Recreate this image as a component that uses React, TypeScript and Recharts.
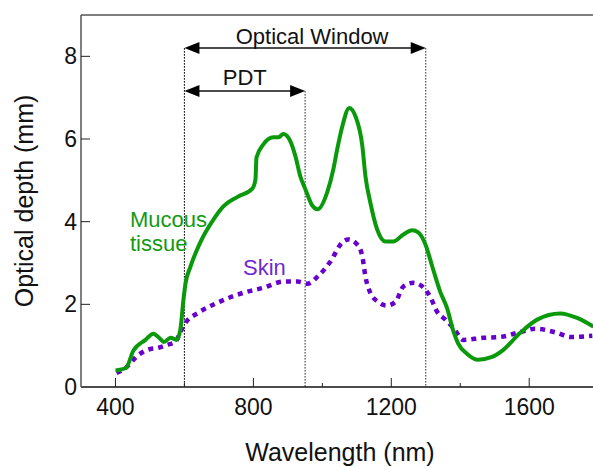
import { LineChart, Line, XAxis, YAxis, ReferenceLine, ReferenceDot } from "recharts"

// Mucous tissue optical depth (wavelength nm, depth mm)
const mucousX = [400, 430, 452, 487, 510, 530, 540, 560, 577, 588, 597, 603, 617, 646, 684, 713, 754, 797, 806, 809, 829, 858, 872, 887, 907, 922, 936, 951, 970, 986, 1014, 1032, 1043, 1058, 1078, 1096, 1116, 1125, 1139, 1159, 1183, 1206, 1235, 1261, 1278, 1299, 1319, 1342, 1362, 1380, 1394, 1420, 1452, 1490, 1525, 1574, 1623, 1690, 1739, 1786]
const mucousY = [0.4, 0.46, 0.88, 1.14, 1.29, 1.16, 1.09, 1.19, 1.14, 1.38, 2.1, 2.5, 2.9, 3.5, 4.05, 4.37, 4.6, 4.8, 5.02, 5.55, 5.87, 6.04, 6.04, 6.12, 5.95, 5.58, 5.1, 4.78, 4.4, 4.3, 4.71, 5.27, 5.75, 6.31, 6.75, 6.55, 5.83, 5.1, 4.47, 3.81, 3.52, 3.52, 3.69, 3.79, 3.74, 3.45, 2.91, 2.3, 1.9, 1.35, 1.05, 0.8, 0.66, 0.72, 0.9, 1.31, 1.63, 1.78, 1.67, 1.46]

// Skin optical depth
const skinX = [403, 429, 467, 493, 525, 551, 574, 588, 603, 641, 696, 771, 829, 887, 928, 957, 986, 1023, 1058, 1075, 1101, 1116, 1125, 1139, 1162, 1186, 1212, 1235, 1264, 1290, 1313, 1333, 1357, 1380, 1409, 1467, 1516, 1574, 1617, 1681, 1719, 1783]
const skinY = [0.34, 0.46, 0.78, 0.9, 0.95, 1.02, 1.09, 1.33, 1.55, 1.8, 2.04, 2.28, 2.4, 2.55, 2.55, 2.5, 2.67, 3.03, 3.5, 3.57, 3.45, 3.16, 2.67, 2.28, 2.06, 1.97, 2.06, 2.43, 2.52, 2.43, 2.18, 1.82, 1.63, 1.43, 1.14, 1.19, 1.21, 1.33, 1.41, 1.31, 1.21, 1.24]

const xTicks = [400, 600, 800, 1000, 1200, 1400, 1600]
const xLabels = ["400", "", "800", "", "1200", "", "1600"]
const yTicks = [0, 2, 4, 6, 8]

// wavelength windows: [start, end, arrow height, label]
const windows = [
  { from: 600, to: 1300, y: 8.2, label: "Optical Window" },
  { from: 600, to: 950, y: 7.16, label: "PDT" },
]

const notes = [
  { x: 442, y: 3.87, text: "Mucous", color: "#129a12" },
  { x: 442, y: 3.29, text: "tissue", color: "#129a12" },
  { x: 770, y: 2.71, text: "Skin", color: "#7028d0" },
]

const mucous = mucousX.map((x, i) => ({ x, y: mucousY[i] }))
const skin = skinX.map((x, i) => ({ x, y: skinY[i] }))

const FONT = "'Liberation Sans', Arial, sans-serif"

function XTick(props: any) {
  const { x, y, payload, index } = props
  const label = xLabels[index] ?? ""
  const len = label ? 9 : 4
  return (
    <g>
      <line x1={x} y1={y} x2={x} y2={y - len} stroke="#222" strokeWidth={1} />
      {label && (
        <text x={x} y={y + 28} textAnchor="middle" fontSize={23} fontFamily={FONT} fill="#111">
          {label}
        </text>
      )}
    </g>
  )
}

function YTick(props: any) {
  const { x, y, payload } = props
  return (
    <g>
      {payload.value !== 0 && <line x1={x + 4} y1={y} x2={x + 13} y2={y} stroke="#222" strokeWidth={1} />}
      <text x={x} y={y + 8} textAnchor="end" fontSize={23} fontFamily={FONT} fill="#111">
        {payload.value}
      </text>
    </g>
  )
}

function XTitle(props: any) {
  const { viewBox } = props
  return (
    <text x={viewBox.x + viewBox.width / 2 + 3} y={461} textAnchor="middle" fontSize={25} fontFamily={FONT} fill="#111">
      Wavelength (nm)
    </text>
  )
}

function YTitle(props: any) {
  const { viewBox } = props
  const cx = 33
  const cy = viewBox.y + viewBox.height / 2
  return (
    <text x={cx} y={cy} transform={`rotate(-90 ${cx} ${cy})`} textAnchor="middle" fontSize={25} fontFamily={FONT} fill="#111">
      Optical depth (mm)
    </text>
  )
}

function Arrow(props: any) {
  const { x1, y1, x2, text } = props
  const h = 15
  const w = 6
  return (
    <g>
      <line x1={x1 + 4} y1={y1} x2={x2 - 4} y2={y1} stroke="#111" strokeWidth={1.5} />
      <polygon points={`${x1},${y1} ${x1 + h},${y1 - w} ${x1 + h},${y1 + w}`} fill="#000" />
      <polygon points={`${x2},${y1} ${x2 - h},${y1 - w} ${x2 - h},${y1 + w}`} fill="#000" />
      <text x={(x1 + x2) / 2 + (text === "PDT" ? 0 : 7)} y={y1 - (text === "PDT" ? 6 : 4)} textAnchor="middle" fontSize={22} fontFamily={FONT} fill="#111">
        {text}
      </text>
    </g>
  )
}

export default function App() {
  return (
    <div style={{ position: "absolute", left: 0, top: 0, background: "#fff" }}>
      <LineChart width={593} height={467} margin={{ top: 15, right: 0, bottom: 0, left: 0 }}>
        <XAxis
          dataKey="x"
          type="number"
          domain={[300, 1785]}
          allowDataOverflow
          ticks={xTicks}
          tick={<XTick />}
          tickLine={false}
          tickSize={0}
          tickMargin={0}
          height={80}
          interval={0}
          axisLine={{ stroke: "#111", strokeWidth: 1.5 }}
          label={<XTitle />}
        />
        <YAxis
          type="number"
          domain={[0, 9]}
          ticks={yTicks}
          tick={<YTick />}
          tickLine={false}
          tickSize={0}
          tickMargin={4}
          width={81}
          interval={0}
          axisLine={{ stroke: "#555", strokeWidth: 1.5 }}
          label={<YTitle />}
        />
        <ReferenceLine y={9} stroke="#555" strokeWidth={1.5} />
        {windows.map((w) => (
          <ReferenceLine
            key={w.label + "a"}
            segment={[{ x: w.from, y: windows[0].y }, { x: w.from, y: 0 }]}
            stroke="#222"
            strokeWidth={1}
            strokeDasharray="1.5 1.5"
          />
        ))}
        {windows.map((w) => (
          <ReferenceLine
            key={w.label + "b"}
            segment={[{ x: w.to, y: w.y }, { x: w.to, y: 0 }]}
            stroke="#222"
            strokeWidth={1}
            strokeDasharray="1.5 1.5"
          />
        ))}
        {windows.map((w) => (
          <ReferenceLine
            key={w.label}
            segment={[{ x: w.from, y: w.y }, { x: w.to, y: w.y }]}
            shape={(p: any) => <Arrow {...p} text={w.label} />}
          />
        ))}
        <Line
          data={skin}
          dataKey="y"
          type="monotone"
          stroke="#6600cc"
          strokeWidth={4.5}
          strokeDasharray="5 5"
          dot={false}
          isAnimationActive={false}
        />
        <Line
          data={mucous}
          dataKey="y"
          type="monotone"
          stroke="#0a990a"
          strokeWidth={4}
          strokeLinejoin="round"
          dot={false}
          isAnimationActive={false}
        />
        {notes.map((n) => (
          <ReferenceDot
            key={n.text}
            x={n.x}
            y={n.y}
            r={0}
            shape={(p: any) => (
              <text x={p.cx} y={p.cy} fontSize={22} fontFamily={FONT} fill={n.color}>
                {n.text}
              </text>
            )}
          />
        ))}
      </LineChart>
    </div>
  )
}
